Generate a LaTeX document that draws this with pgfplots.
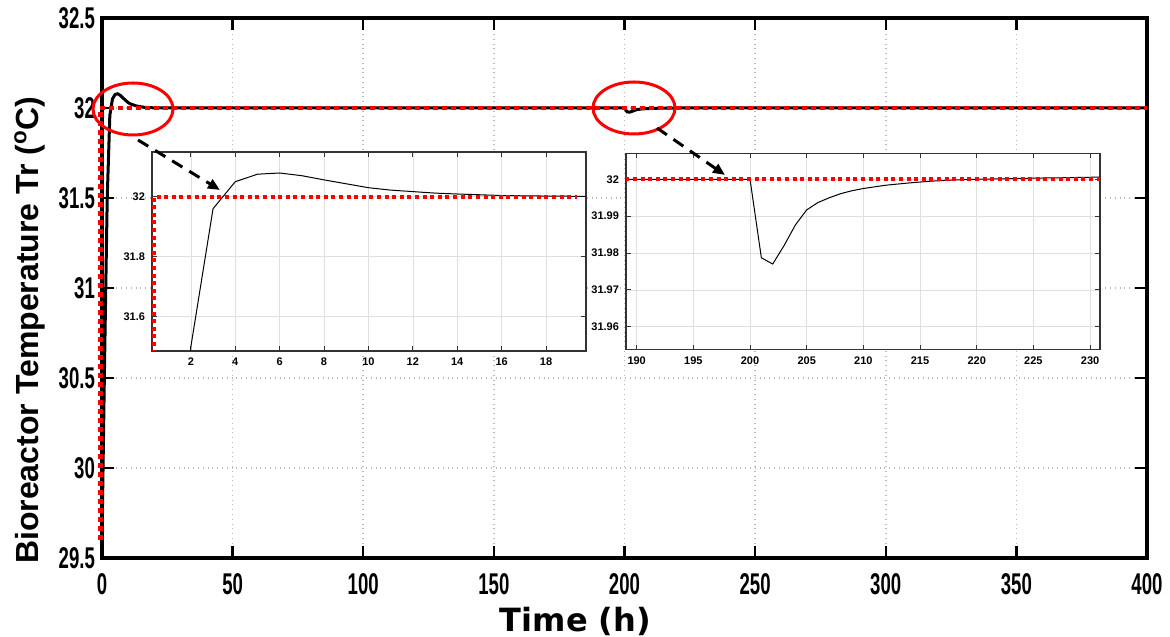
\documentclass[border=0pt]{standalone}
\usepackage{pgfplots}
\pgfplotsset{compat=1.18}
\usepackage{fontspec}
\setmainfont{Liberation Sans}
\newfontfamily\tickfont[FakeStretch=0.62]{Liberation Sans}
\newfontfamily\labfont{Liberation Sans}
\newfontfamily\xlabfont{DejaVu Sans}
\usetikzlibrary{arrows.meta}

\pgfplotstableread{
t T
0 29.6
1 30.6
2 31.5
3 31.96
4 32.05
5 32.075
6 32.079
7 32.07
8 32.056
9 32.043
10 32.03
11 32.022
12 32.017
13 32.012
14 32.009
16 32.004
18 32.002
20 32.001
25 32.0
200 32.0
201 31.9787
202 31.977
203 31.982
204 31.9876
205 31.9917
206 31.9937
207 31.995
208 31.9961
209 31.9969
210 31.9975
212 31.9984
214 31.999
216 31.9995
218 31.9998
220 32.0
225 32.0003
231 32.0006
400 32.0006
}\response

\begin{document}
\begin{tikzpicture}
\useasboundingbox (-51pt,-39pt) rectangle (534pt,279pt);
% main axis
\begin{axis}[
  at={(0,0)}, anchor=south west,
  scale only axis, width=522.5pt, height=270pt,
  xmin=0, xmax=400, ymin=29.5, ymax=32.5,
  xtick={0,50,...,400}, ytick={29.5,30,...,32.5},
  tick align=inside, tick pos=both,
  major tick length=6pt,
  tick style={line width=1.2pt, black},
  axis line style={line width=1.6pt},
  grid=major, grid style={dotted, gray!55, line width=0.8pt},
  clip=false,
  /pgf/number format/assume math mode=true,
  tick label style={font=\tickfont\bfseries\fontsize{15}{15}\selectfont},
  xticklabel style={yshift=-4pt},
  xlabel={Time (h)},
  ylabel={Bioreactor Temperature Tr (\textsuperscript{o}C)},
  xlabel style={font=\xlabfont\bfseries\fontsize{16}{16}\selectfont, at={(axis description cs:0.453,-0.117)}, anchor=center},
  ylabel style={font=\labfont\bfseries\fontsize{16}{16}\selectfont, at={(axis description cs:-0.069,0.422)}, anchor=center, rotate=0},
]
\addplot[black, line width=1.5pt] table[x=t,y=T] {\response};
\addplot[red, line width=2.2pt, dash pattern=on 2.5pt off 2pt] coordinates {(-0.6,29.6) (-0.6,32) (400,32)};
\end{axis}

% inset 1
\begin{axis}[
  at={(25pt,103.5pt)}, anchor=south west,
  scale only axis, width=217pt, height=99.5pt,
  xmin=0.25, xmax=19.8, ymin=31.486, ymax=32.149,
  xtick={2,4,...,18}, ytick={31.6,31.8,32},
  axis background/.style={fill=white},
  tick align=inside, tick pos=both,
  major tick length=2.5pt,
  tick style={gray!40!black, line width=0.4pt},
  axis line style={gray!40!black, line width=0.6pt},
  grid=major, grid style={gray!25, line width=0.3pt},
  /pgf/number format/assume math mode=true,
  tick label style={font=\labfont\bfseries\fontsize{5.5}{6}\selectfont},
]
\addplot[black, line width=0.5pt] table[x=t,y=T] {\response};
\addplot[red, line width=2pt, dash pattern=on 2pt off 1.8pt] coordinates {(0.34,31.3) (0.34,32) (19.4,32)};
\end{axis}

% inset 2
\begin{axis}[
  at={(262pt,104pt)}, anchor=south west,
  scale only axis, width=237pt, height=98.3pt,
  xmin=189.06, xmax=230.88, ymin=31.9537, ymax=32.00706,
  xtick={190,195,...,230}, ytick={31.96,31.97,31.98,31.99,32},
  axis background/.style={fill=white},
  tick align=inside, tick pos=both,
  major tick length=2.5pt,
  tick style={gray!40!black, line width=0.4pt},
  axis line style={gray!40!black, line width=0.6pt},
  grid=major, grid style={gray!25, line width=0.3pt},
  /pgf/number format/assume math mode=true,
  yticklabel style={/pgf/number format/fixed, /pgf/number format/precision=2},
  tick label style={font=\labfont\bfseries\fontsize{5.5}{6}\selectfont},
]
\addplot[black, line width=0.5pt] table[x=t,y=T] {\response};
\addplot[red, line width=2pt, dash pattern=on 2pt off 1.8pt] coordinates {(189,32) (231,32)};
\end{axis}

% annotations
\draw[red, line width=1.5pt] (15.5pt,224.5pt) ellipse [x radius=20pt, y radius=13pt];
\draw[red, line width=1.5pt] (266pt,225pt) ellipse [x radius=20.5pt, y radius=13pt];
\draw[black, line width=1.5pt, dash pattern=on 6pt off 4pt, -{Triangle[length=6pt,width=5pt]}] (18pt,209pt) -- (59pt,184pt);
\draw[black, line width=1.5pt, dash pattern=on 6pt off 4pt, -{Triangle[length=6pt,width=5pt]}] (277.5pt,215pt) -- (311.5pt,191.5pt);
\end{tikzpicture}
\end{document}
